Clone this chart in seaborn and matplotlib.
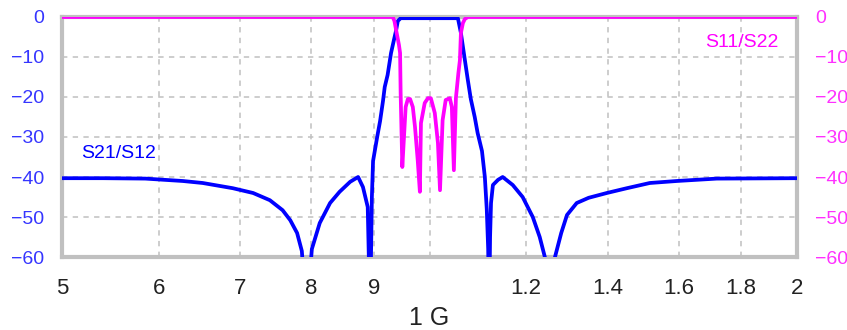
import matplotlib
matplotlib.use("Agg")
import matplotlib.pyplot as plt
import matplotlib.ticker as mticker
import seaborn as sns
import pandas as pd

# S21/S12 transmission (frequency in GHz, level in dB)
freq_s21 = [0.500, 0.540, 0.585, 0.628, 0.652, 0.690, 0.717, 0.740, 0.758, 0.769,
            0.779, 0.786, 0.793, 0.801, 0.813, 0.829, 0.844, 0.861, 0.874, 0.882,
            0.890, 0.894, 0.897, 0.899, 0.906, 0.911, 0.916, 0.919, 0.924, 0.930,
            0.935, 0.939, 0.942, 0.947, 1.000, 1.055, 1.061, 1.069, 1.075, 1.081,
            1.089, 1.095, 1.104, 1.110, 1.114, 1.117, 1.119, 1.121, 1.123, 1.127,
            1.138, 1.148, 1.170, 1.192, 1.215, 1.231, 1.243, 1.255, 1.267, 1.282,
            1.296, 1.320, 1.350, 1.397, 1.451, 1.515, 1.594, 1.719, 2.000]
db_s21 = [-40.3, -40.3, -40.4, -41.0, -41.5, -42.8, -44.0, -45.8, -48.3, -50.8,
          -54.0, -58.5, -75.0, -58.0, -51.5, -46.5, -43.7, -41.2, -40.0, -42.5,
          -47.5, -75.0, -45.0, -36.0, -30.0, -26.0, -21.0, -17.5, -14.5, -9.0,
          -5.8, -3.3, -1.0, -0.3, -0.3, -0.3, -4.0, -10.8, -15.8, -20.5,
          -25.0, -29.0, -33.5, -40.0, -48.0, -58.0, -75.0, -55.0, -46.5, -42.0,
          -40.7, -40.0, -42.0, -45.0, -50.0, -55.0, -60.0, -80.0, -60.0, -54.0,
          -49.5, -46.5, -45.2, -44.0, -42.8, -41.5, -41.0, -40.4, -40.3]

# S11/S22 reflection
freq_s11 = [0.500, 0.933, 0.936, 0.939, 0.944, 0.946, 0.947, 0.950, 0.953, 0.956,
            0.960, 0.964, 0.969, 0.973, 0.978, 0.982, 0.984, 0.991, 0.997, 1.0025,
            1.010, 1.016, 1.020, 1.025, 1.031, 1.039, 1.043, 1.047, 1.051, 1.056,
            1.059, 1.061, 1.065, 1.069, 1.075, 2.000]
db_s11 = [0.0, 0.0, -1.0, -3.3, -7.0, -9.0, -19.0, -37.5, -30.0, -22.5,
          -20.5, -20.5, -22.5, -27.5, -35.8, -43.7, -26.5, -21.5, -20.3, -20.3,
          -24.0, -31.5, -43.3, -25.8, -20.75, -20.3, -22.5, -38.3, -20.3, -14.0,
          -10.8, -4.0, -1.5, -0.5, 0.0, 0.0]

x_ticks = [0.5, 0.6, 0.7, 0.8, 0.9, 1.0, 1.2, 1.4, 1.6, 1.8, 2.0]
x_tick_labels = ["5", "6", "7", "8", "9", "", "1.2", "1.4", "1.6", "1.8", "2"]
y_ticks = [0, -10, -20, -30, -40, -50, -60]

sns.set_style("white")
plt.rcParams["font.family"] = ["Liberation Sans", "DejaVu Sans"]

blue = "#0000ff"
magenta = "#ff00ff"
gray = "#c0c0c0"

fig, ax = plt.subplots(figsize=(8.47, 3.30), dpi=100)
fig.subplots_adjust(left=0.0732, right=0.941, bottom=0.2212, top=0.9485)

df21 = pd.DataFrame({"f": freq_s21, "dB": db_s21})
df11 = pd.DataFrame({"f": freq_s11, "dB": db_s11})
sns.lineplot(data=df21, x="f", y="dB", ax=ax, color=blue, linewidth=2.7,
             sort=False, zorder=3)
sns.lineplot(data=df11, x="f", y="dB", ax=ax, color=magenta, linewidth=2.7,
             sort=False, zorder=3)

ax.set_xscale("log")
ax.set_xlim(0.5, 2.0)
ax.set_ylim(-60, 0)
ax.set_xticks(x_ticks)
ax.set_xticklabels(x_tick_labels)
ax.xaxis.set_minor_locator(mticker.NullLocator())
ax.set_yticks(y_ticks)
ax.grid(True, which="major", color=gray, linestyle=(0, (3.5, 3.5)), linewidth=1.1)

for s in ax.spines.values():
    s.set_color(gray)
    s.set_linewidth(3)

ax.tick_params(axis="x", length=0, labelsize=16, labelcolor="#222222", pad=15)
ax.tick_params(axis="y", length=0, labelsize=14, labelcolor="#3535ff", pad=13)
ax.set_xlabel("1 G", fontsize=18, color="#222222", labelpad=5)
ax.set_ylabel("")

ax2 = ax.twinx()
ax2.set_ylim(-60, 0)
ax2.set_yticks(y_ticks)
ax2.tick_params(axis="y", length=0, labelsize=14, labelcolor="#ff30ff", pad=13)
for s in ax2.spines.values():
    s.set_visible(False)

ax.text(0.518, -34, "S21/S12", color=blue, fontsize=14, ha="left", va="center")
ax.text(1.93, -6.5, "S11/S22", color=magenta, fontsize=14, ha="right", va="center")

fig.savefig("out.png", dpi=100)
